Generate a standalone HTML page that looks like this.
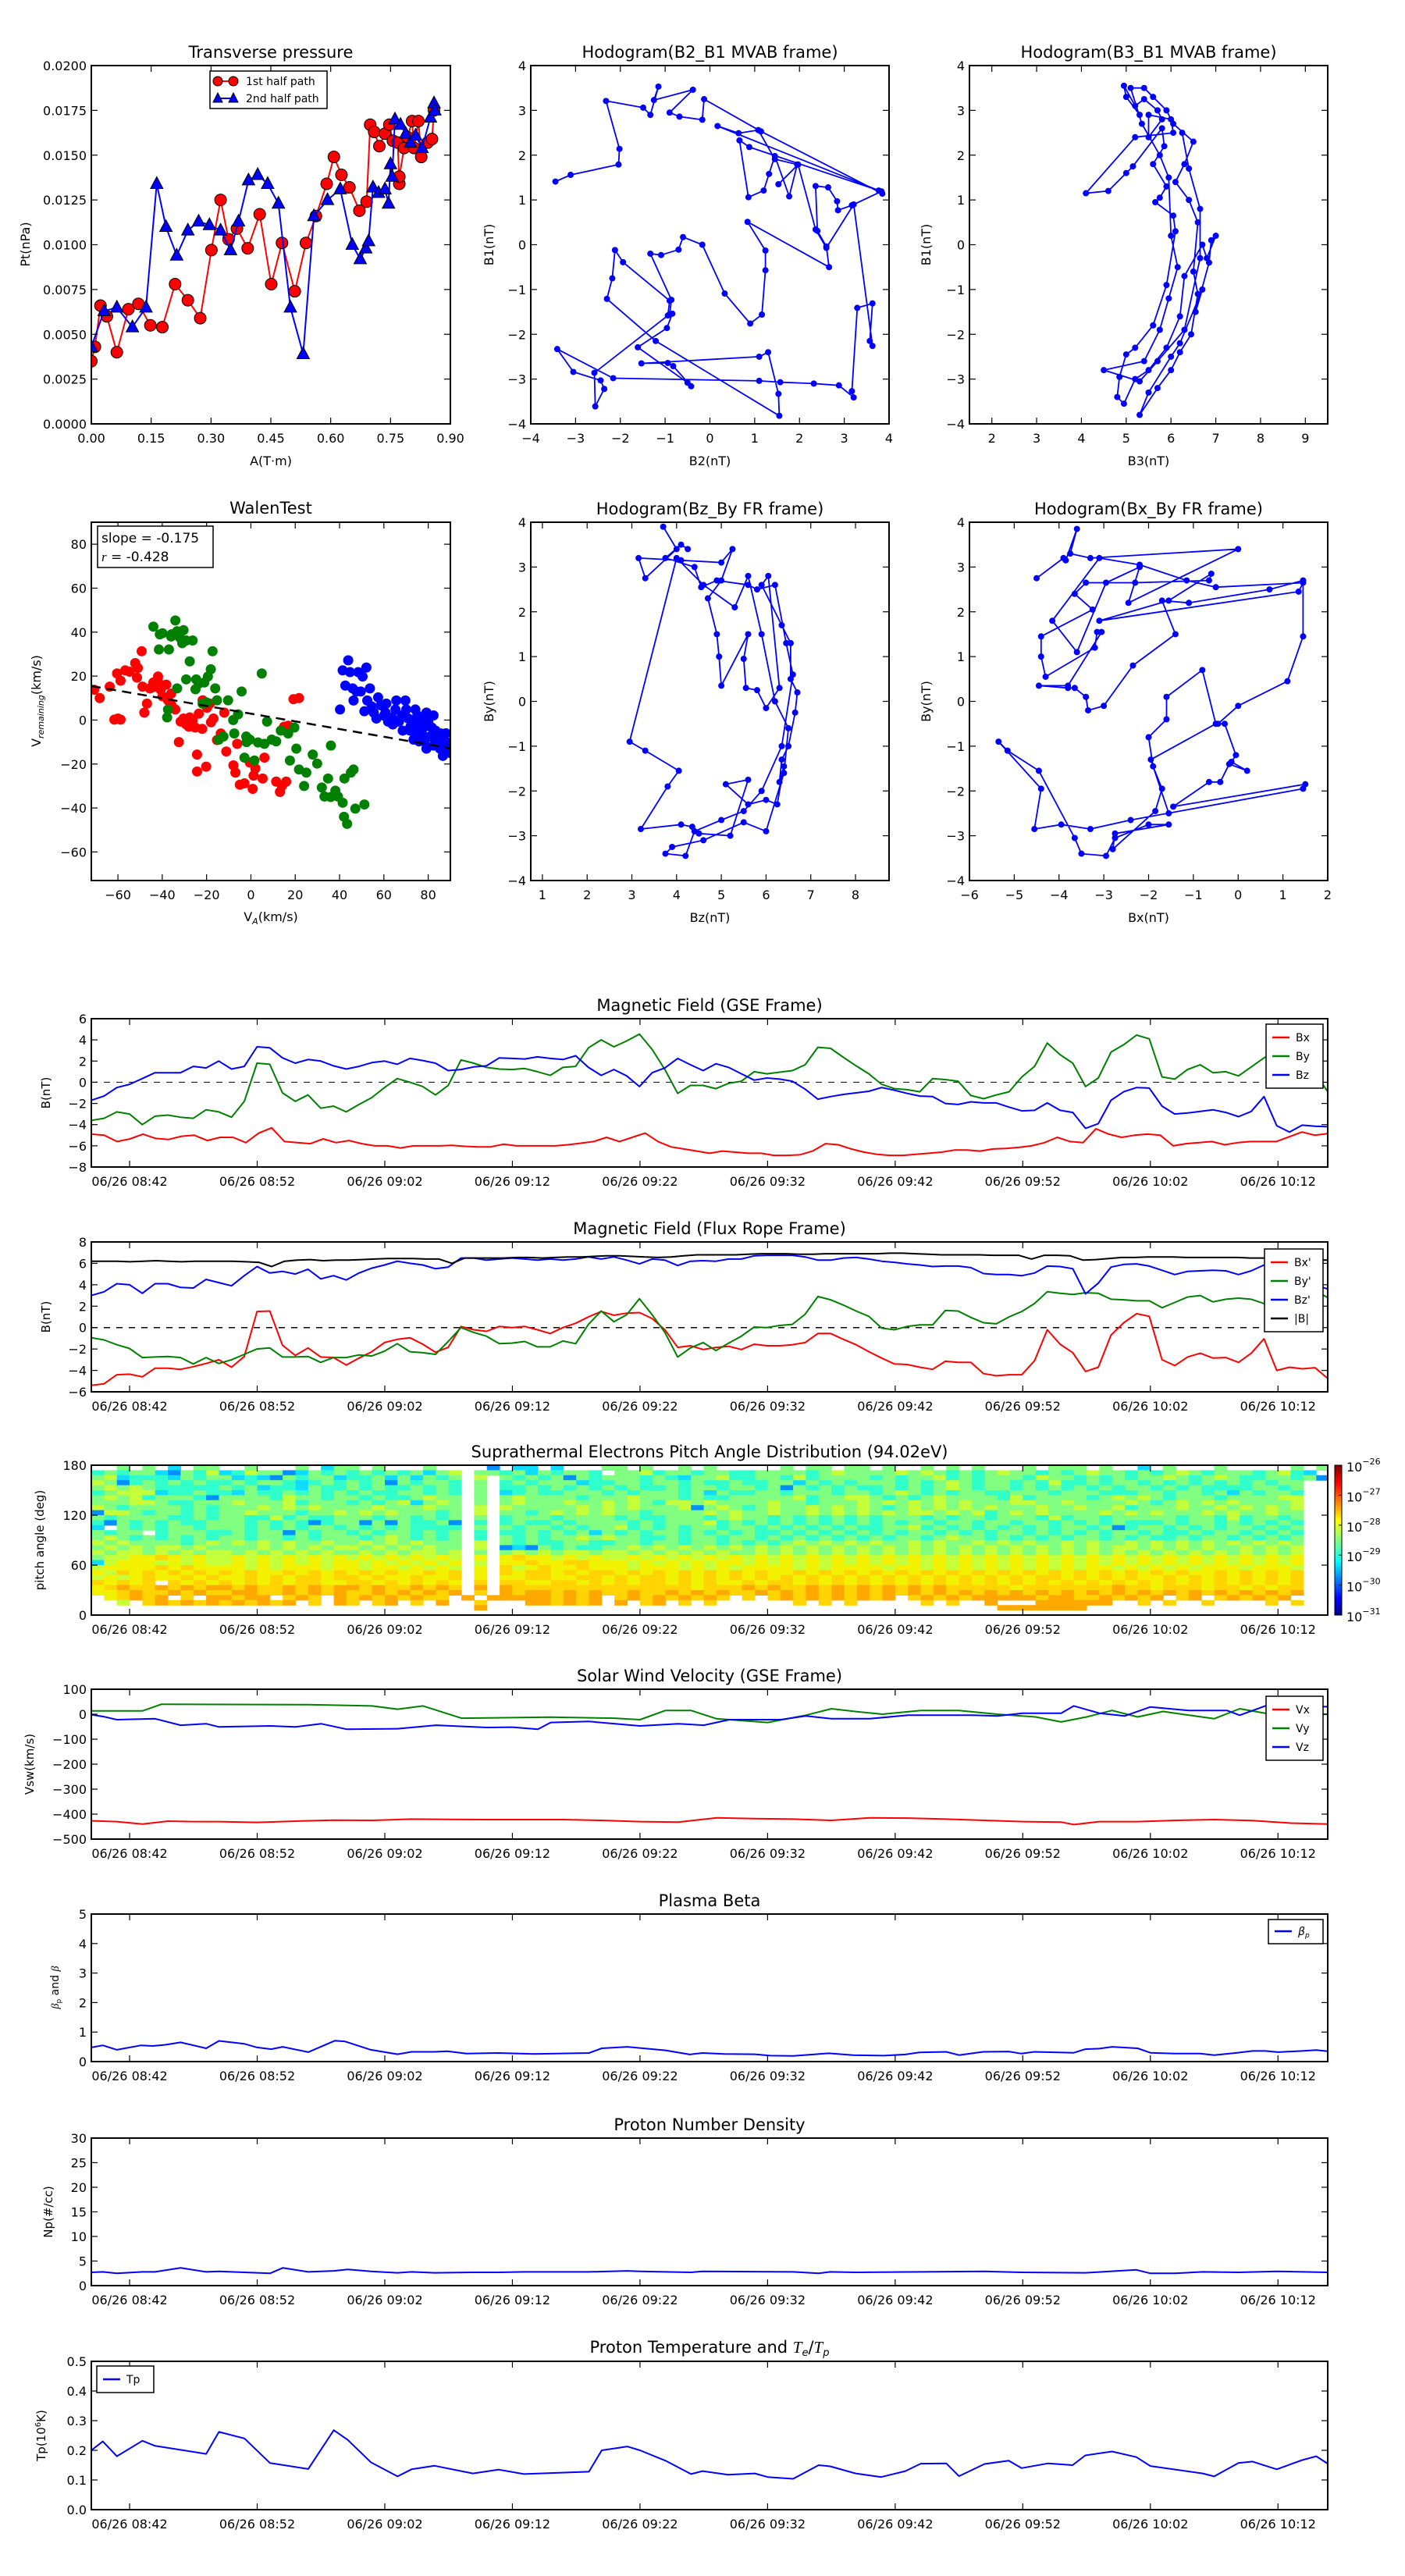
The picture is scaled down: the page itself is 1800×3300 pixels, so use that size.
<!DOCTYPE html>
<html><head><meta charset="utf-8"><title>Flux rope analysis</title>
<style>
html,body{margin:0;padding:0;background:#fff;}
svg{display:block;font-family:"DejaVu Sans","Liberation Sans",sans-serif;}
</style></head>
<body>
<svg id="fig" width="1800" height="3300" viewBox="0 0 1800 3300" xmlns="http://www.w3.org/2000/svg">
<rect x="0" y="0" width="1800" height="3300" fill="#fff"/>
<defs>
<linearGradient id="jet" x1="0" y1="1" x2="0" y2="0">
<stop offset="0" stop-color="#00008f"/><stop offset="0.11" stop-color="#0000ff"/><stop offset="0.36" stop-color="#00ffff"/>
<stop offset="0.5" stop-color="#80ff80"/><stop offset="0.63" stop-color="#ffff00"/><stop offset="0.88" stop-color="#ff0000"/><stop offset="1" stop-color="#800000"/>
</linearGradient>
</defs>
</svg>
<script>
// ---------------- DATA ----------------
const ptRedX=[0,0.009,0.023,0.039,0.064,0.093,0.118,0.148,0.178,0.21,0.242,0.273,0.301,0.324,0.344,0.365,0.392,0.422,0.451,0.478,0.51,0.538,0.563,0.59,0.608,0.627,0.647,0.672,0.69,0.699,0.709,0.722,0.736,0.747,0.756,0.768,0.772,0.772,0.784,0.793,0.804,0.809,0.82,0.827,0.843,0.854,0.859];
const ptRedY=[0.0035,0.0043,0.0066,0.006,0.004,0.0064,0.0067,0.0055,0.0054,0.0078,0.0069,0.0059,0.0097,0.0125,0.0103,0.0109,0.0098,0.0117,0.0078,0.0101,0.0074,0.0101,0.0116,0.0134,0.0149,0.0139,0.0132,0.0119,0.0124,0.0167,0.0163,0.0155,0.0162,0.0167,0.0158,0.0157,0.0134,0.0138,0.0154,0.016,0.0169,0.0154,0.0169,0.0149,0.0157,0.0159,0.0175];
const ptBlueX=[0,0.032,0.064,0.103,0.137,0.164,0.187,0.214,0.242,0.269,0.296,0.324,0.349,0.369,0.394,0.417,0.442,0.469,0.499,0.531,0.558,0.592,0.624,0.654,0.674,0.688,0.695,0.706,0.72,0.736,0.745,0.75,0.754,0.761,0.775,0.788,0.8,0.813,0.829,0.85,0.859,0.861];
const ptBlueY=[0.0043,0.0063,0.0065,0.0054,0.0065,0.0134,0.011,0.0094,0.0108,0.0113,0.0111,0.0108,0.0097,0.0113,0.0136,0.0139,0.0134,0.0123,0.0065,0.0039,0.0116,0.0125,0.0131,0.01,0.0092,0.0098,0.0102,0.0132,0.0129,0.0131,0.0123,0.0145,0.0138,0.017,0.0167,0.0162,0.0157,0.0161,0.0154,0.0171,0.0179,0.0175];

const h1X=[-3.45,-3.11,-2.04,-2.02,-2.32,-1.49,-1.33,-1.15,-1.25,-0.38,-0.9,-0.68,-0.17,-0.13,1.14,3.85,3.77,0.17,0.64,1.08,1.45,1.95,1.77,1.45,1.32,1.2,0.86,0.66,0.88,3.83,3.17,2.86,2.84,2.64,2.36,2.4,2.6,2.66,0.84,1.24,1.24,1.16,0.9,0.33,-0.17,-0.6,-0.7,-1.09,-1.33,-0.86,-0.9,-0.84,-0.96,-1.61,-0.5,-0.42,-0.82,-0.94,-1.53,1.1,1.3,1.53,1.55,-1.21,-2.3,-2.18,-2.12,-1.94,-0.9,-0.94,-2.58,-2.56,-2.36,-2.44,-3.05,-3.41,-2.16,1.1,1.57,2.32,2.88,3.21,3.17,3.29,3.63,3.57,3.63,3.21,2.6,2.36,1.97,1.53];
const h1Y=[1.41,1.56,1.79,2.14,3.21,3.06,2.9,3.53,3.23,3.46,2.95,2.86,2.79,3.25,2.53,1.14,1.21,2.65,2.49,2.56,1.91,1.79,1.08,1.98,1.58,1.21,1.06,2.33,2.18,1.19,0.88,0.77,0.97,1.28,1.31,0.31,-0.04,-0.5,0.51,-0.13,-0.57,-1.56,-1.76,-1.09,0,0.17,-0.11,-0.23,-0.2,-1.23,-1.56,-1.54,-1.86,-2.29,-3.08,-3.16,-2.71,-2.64,-2.65,-2.5,-2.4,-3.33,-3.82,-2.15,-1.21,-0.75,-0.12,-0.39,-1.25,-1.58,-2.86,-3.61,-3.22,-3.03,-2.84,-2.33,-2.98,-3.04,-3.07,-3.1,-3.14,-3.41,-3.27,-1.41,-1.31,-2.15,-2.26,0.9,-0.07,0.34,1.79,1.35];

const h2X=[5.3,5.0,4.95,5.2,5.4,5.7,5.8,5.5,5.5,6.0,6.05,5.2,4.1,4.6,5.0,5.15,5.8,5.85,5.6,5.9,5.75,5.65,6.05,6.1,5.9,5.6,5.2,5.0,4.85,4.8,4.95,5.2,5.5,5.9,6.2,6.3,6.7,6.8,7.0,6.9,6.85,6.55,6.7,6.2,6.0,5.5,5.3,5.7,6.0,6.2,6.45,6.6,6.5,6.6,6.4,6.1,6.3,6.5,6.05,5.9,5.6,5.4,5.1,5.35,5.75,5.95,6.0,6.15,5.95,5.75,5.4,4.5,5.3,5.7,6.3,6.65,6.65,6.4,6.25];
const h2Y=[2.9,3.3,3.55,3.1,3.25,3.0,2.8,2.4,2.9,2.8,2.5,2.4,1.15,1.2,1.6,1.75,2.6,2.2,1.8,1.3,1.05,0.95,0.65,0.3,-0.9,-1.8,-2.3,-2.45,-2.95,-3.4,-3.55,-3.0,-2.8,-2.3,-1.6,-0.7,0.0,-0.3,0.2,0.1,-0.4,-1.5,-1.0,-2.2,-2.5,-3.3,-3.8,-3.2,-2.8,-2.4,-2.0,-1.1,-0.6,0.5,1.0,1.4,1.8,2.3,2.7,3.0,3.3,3.5,3.5,2.7,2.0,1.5,0.2,-0.5,-1.2,-1.9,-2.6,-2.8,-3.05,-2.6,-1.9,-0.3,0.8,1.7,2.5];

const h3X=[3.7,4.0,3.3,3.15,4.1,5.0,5.25,5.0,4.7,4.9,4.95,5.0,5.6,5.5,5.55,5.8,6.0,6.3,6.05,5.9,6.35,6.55,6.55,6.7,6.65,6.5,6.35,6.3,6.4,6.25,6.0,5.6,5.1,5.6,5.2,4.5,4.35,4.1,3.2,3.8,4.05,3.3,2.95,4.0,4.6,5.3,5.6,5.9,6.2,6.5,6.4,6.0,5.5,4.6,3.9,3.75,4.2,4.4,5.0,5.5,5.9,6.35,6.6,6.45,6.2,5.8,5.6,4.9,4.55,4.4,3.75,4.1,4.25];
const h3Y=[3.9,3.4,2.75,3.2,3.15,3.1,3.4,2.7,2.3,1.5,1.0,0.35,1.5,0.95,0.3,0.25,-0.15,0.3,2.8,2.6,1.7,1.3,0.5,0.2,-0.25,-1.0,-1.3,-1.8,-1.45,-2.3,-2.2,-2.3,-1.85,-1.75,-3.0,-2.95,-2.8,-2.75,-2.85,-1.9,-1.55,-1.1,-0.9,3.2,2.6,2.1,2.8,1.5,0.0,-0.6,-1.6,-2.9,-2.7,-3.1,-3.25,-3.4,-3.45,-2.9,-2.65,-2.45,-2.0,-1.0,0.6,1.3,2.6,2.5,2.6,2.7,2.55,3.0,3.2,3.5,3.4];

const h4X=[-4.5,-3.9,-3.85,-3.6,-3.75,-3.3,0.0,-2.45,-2.2,-2.95,-3.6,-4.15,-3.1,-2.2,-1.15,-0.5,1.45,1.35,-3.1,-1.55,-0.6,-0.65,-2.3,-3.4,-3.65,-3.25,-4.4,-4.4,-4.3,-3.2,-3.15,-3.05,-3.8,-4.45,-3.8,-3.65,-3.4,-3.35,-3.0,-2.35,-1.4,-1.7,-1.1,0.7,1.45,1.45,1.1,0.0,-0.45,-0.3,-0.05,-0.15,0.2,-0.2,-0.4,-0.65,-1.45,1.5,1.45,-2.4,-3.3,-3.95,-4.55,-4.4,-5.35,-5.15,-4.45,-3.65,-3.5,-2.95,-2.75,-2.0,-1.55,-2.75,-2.8,-1.85,-1.7,-1.9,-2.0,-1.6,-1.6,-0.8,-0.5,-1.95,-1.55];
const h4Y=[2.75,3.2,3.15,3.85,3.3,3.2,3.4,2.2,3.0,2.65,1.1,1.8,3.2,3.05,2.7,2.55,2.65,2.45,1.8,2.25,2.85,2.7,2.65,2.65,2.4,2.05,1.45,1.0,0.55,1.2,1.55,1.55,0.35,0.35,0.3,0.3,0.1,-0.2,-0.1,0.8,1.5,2.25,2.2,2.5,2.7,1.45,0.45,-0.1,-0.5,-0.5,-1.2,-1.35,-1.55,-1.4,-1.8,-1.8,-2.35,-1.85,-1.95,-2.65,-2.85,-2.75,-2.85,-1.95,-0.9,-1.1,-1.55,-3.05,-3.4,-3.45,-3.05,-2.75,-2.75,-2.95,-3.3,-2.45,-1.95,-1.45,-0.8,-0.4,0.1,0.7,-0.5,-1.3,-2.5];

const walenRedX=[-70.7,-68.2,-63.7,-61.6,-60,-58.8,-60.4,-58.8,-56.7,-54.7,-52.2,-51,-49.3,-51.4,-48.9,-48.1,-46.9,-45.6,-44,-43.2,-41.9,-40.7,-39.9,-38.2,-37.4,-35.8,-34.1,-32.5,-31.7,-30.4,-29.2,-27.6,-26.3,-25.1,-24.3,-24.3,-23.5,-21.8,-19.8,-20.2,-18.5,-16.9,-15.3,-13.6,-12,-11.1,-7.9,-7,-5,-2.9,-0.5,0.8,1.2,5.3,11.4,13.1,15.9,16.8,19.2,21.7,6.1,-6.2,-44,-42,-36,-28,-22,-18,2,14,15];
const walenRedY=[13.8,10,15.2,0.2,0.7,0.2,21.2,17.9,22.6,22,25.9,23.7,31.3,19.3,15.2,3.4,7.5,14.4,17.1,16.3,19.8,13.8,10.8,16.1,9,6.7,4.8,-10,-0.7,0.7,-2,1.2,-0.1,-3.4,-15.7,-23.4,2.9,9,5.6,-21.2,7.5,0.7,-9.1,-6.1,3.4,-14.3,-20.6,-23.9,-29.4,-28.8,-19.3,-31.3,-25.3,-26.6,-28,-32.7,-28,-2.6,9.5,10,-17.1,-10.8,15,18,12,-3,-4,-1,-22,-30,-3];
const walenGreenX=[-44,-41.1,-39.9,-37,-35.8,-34.1,-33.3,-32.1,-30.4,-29.2,-27.6,-26.3,-24.7,-23.5,-21.8,-21,-19.4,-18.1,-17.3,-16.1,-15.3,-14.5,-12.4,-10.3,-7.5,-5.8,-4.2,-2.9,-2.1,-0.5,1.6,3.2,4.9,6.1,7.3,9.4,11.4,13.5,16.8,17.6,19.6,20.5,21.7,25,27.9,29.9,32,33.2,34.8,36.1,38.1,39.3,41.4,42.2,43.4,45.1,46.3,47.1,51.2,-37.8,-37.4,-33.3,-29.2,-41.5,-36,-31,-25,-8,-2,24,36,42,-20];
const walenGreenY=[42.5,39,39.5,32.1,39,45.3,40.4,37.6,40.9,36.2,26.7,36.2,18.5,16.6,7.5,17.1,19.8,23.1,31.3,14.4,9,-8.9,-7.5,9,-6.1,2.6,13,-17.1,-7.5,-8.9,-18.4,-10.2,21.2,-10.8,-0.7,-8.9,-9.7,-4.8,-6.1,-18.4,-3.4,-13,-22.5,-23.9,-15.7,-19.8,-30.7,-34.8,-26.6,-11.6,-32.1,-34.8,-37.6,-26.6,-47.2,-23.9,-22.5,-40.3,-38.4,1.2,4.8,14.4,18.5,32.1,38,35,14,0,-10,-30,-35,-44,8];
const walenBlueX=[43.9,41.4,44.7,48.4,52.1,50.4,42.6,45.9,47.6,49.6,53.7,40.2,46.3,52.5,51.2,54.5,55.4,56.6,58.6,60.7,61.9,63.6,65.6,66.8,68.1,69.7,70.1,71.8,73,74.2,75.1,76.3,77.1,77.9,79.2,80,80.8,81.6,82.4,83.3,84.1,84.9,85.7,86.6,87.4,88.2,89,89.8,79.2,82.4,85.3,73.4,75.9,71,65.2,61.1,57.4,68.5,78.3,86.6,60,64,72,83,88,90,75,78];
const walenBlueY=[27.2,22.6,21.8,21.8,23.9,19.8,15.7,14.4,13,13,14.4,4.8,8.9,8.9,4,6.2,3.4,0.7,6.7,3.4,-0.7,1.2,8.9,-0.7,2.1,8.9,4.8,-4.8,-0.7,4.8,2.1,-2,-6.1,-3.4,3.4,-0.7,-7.5,-3.4,2.1,-4.8,-7.5,-10.2,-6.1,-8.9,-11.6,-14.3,-10.2,-13,-13,-11.6,-13,-8.9,-9.7,0.7,4.8,7.5,10.3,-4.8,-9.7,-16.3,2,-2,-3,-9,-6,-15,-5,0];
const walenSlope=-0.175, walenIntercept=2.9;

const gseBx=[-4.9,-5.0,-5.6,-5.35,-4.9,-5.3,-5.4,-5.1,-5.0,-5.5,-5.2,-5.2,-5.7,-4.8,-4.3,-5.6,-5.7,-5.8,-5.35,-5.7,-5.5,-5.8,-6.0,-6.0,-6.2,-6.0,-6.0,-6.0,-5.95,-6.05,-6.1,-6.1,-5.85,-6.0,-6.0,-6.0,-6.0,-5.9,-5.75,-5.6,-5.2,-5.6,-5.2,-4.8,-5.6,-6.1,-6.3,-6.5,-6.7,-6.5,-6.6,-6.7,-6.7,-6.9,-6.9,-6.85,-6.5,-5.8,-5.9,-6.3,-6.6,-6.8,-6.9,-6.9,-6.8,-6.7,-6.6,-6.4,-6.4,-6.5,-6.3,-6.25,-6.15,-6.0,-5.7,-5.2,-5.6,-5.7,-4.4,-4.9,-5.2,-5.0,-4.9,-5.0,-6.0,-5.8,-5.7,-5.6,-5.9,-5.7,-5.6,-5.6,-5.6,-5.15,-4.7,-5.0,-4.85];
const gseBy=[-3.6,-3.4,-2.8,-3.0,-4.0,-3.2,-3.1,-3.3,-3.4,-2.6,-2.8,-3.3,-1.8,1.8,1.7,-1.0,-1.8,-1.2,-2.45,-2.25,-2.8,-2.1,-1.45,-0.5,0.35,0.0,-0.4,-1.2,-0.3,2.1,1.8,1.4,1.25,1.2,1.3,1.0,0.65,1.4,1.5,3.25,4.0,3.35,3.9,4.55,3.1,1.2,-1.05,-0.3,-0.3,-0.6,-0.1,0.1,1.0,0.8,0.95,1.1,1.65,3.3,3.2,2.35,1.55,0.8,-0.2,-0.6,-0.7,-0.9,0.35,0.25,0.1,-1.25,-1.55,-1.2,-0.9,0.5,1.5,3.7,2.6,1.8,-0.4,0.4,2.85,3.55,4.45,4.1,0.5,0.3,1.2,1.65,0.9,1.0,0.6,1.45,2.3,3.0,2.2,1.7,0.9,-0.9];
const gseBz=[-1.7,-1.3,-0.5,-0.2,0.35,0.9,0.9,0.9,1.5,1.35,2.0,1.25,1.5,3.35,3.25,2.3,1.8,2.15,2.0,1.55,1.25,1.5,1.85,2.0,1.7,2.25,2.05,1.8,1.1,1.2,1.45,1.55,2.3,2.25,2.2,2.4,2.25,2.15,2.5,1.4,0.65,1.2,0.6,-0.4,0.9,1.35,2.25,1.65,1.1,1.75,1.4,0.8,0.2,0.4,0.3,0.1,-0.65,-1.6,-1.35,-1.15,-1.0,-0.85,-0.5,-0.75,-1.05,-1.3,-1.35,-2.0,-2.1,-1.85,-1.95,-1.95,-2.35,-2.7,-2.65,-1.95,-2.65,-2.85,-4.35,-3.9,-1.7,-0.9,-0.5,-0.55,-2.25,-3.0,-2.9,-2.75,-2.6,-2.85,-3.25,-2.75,-1.35,-4.1,-4.7,-4.05,-4.15,-4.2];

const frBx=[-5.4,-5.25,-4.4,-4.35,-4.6,-3.8,-3.8,-3.9,-3.65,-3.35,-3.0,-3.7,-2.7,1.5,1.55,-1.65,-2.6,-1.9,-2.75,-2.8,-3.5,-2.85,-2.25,-1.4,-1.1,-0.95,-1.55,-2.3,-1.85,0.1,-0.2,-0.35,0.1,0.0,0.1,-0.2,-0.55,0.0,0.4,1.0,1.5,1.15,1.35,1.4,0.85,-0.2,-1.85,-1.7,-2.05,-1.85,-1.75,-2.05,-1.55,-1.7,-1.7,-1.6,-1.4,-0.55,-0.55,-1.1,-1.6,-2.25,-2.85,-3.4,-3.45,-3.7,-3.9,-3.15,-3.25,-3.25,-4.3,-4.5,-4.4,-4.4,-3.1,-0.2,-1.55,-2.35,-4.1,-3.7,-0.7,0.45,1.3,1.05,-3.0,-3.55,-2.75,-2.4,-2.85,-2.8,-3.25,-2.4,-1.05,-4.0,-3.7,-3.85,-3.75,-4.75];
const frBy=[-0.95,-1.15,-1.6,-1.95,-2.8,-2.75,-2.7,-2.8,-3.4,-2.8,-3.35,-3.0,-2.5,-2.0,-1.9,-2.75,-2.75,-2.7,-3.25,-2.8,-2.8,-2.55,-2.65,-2.2,-1.5,-2.25,-2.35,-2.5,-1.3,0.0,-0.45,-0.8,-1.5,-1.45,-1.3,-1.8,-1.8,-1.25,-1.5,0.3,1.55,0.55,1.2,2.7,1.2,-0.45,-2.75,-1.9,-1.4,-2.15,-1.45,-0.8,0.05,0.0,0.2,0.3,1.25,2.9,2.6,2.1,1.55,1.05,-0.05,-0.2,0.1,0.25,0.25,1.6,1.55,0.95,0.45,0.35,1.0,1.5,2.25,3.35,3.2,3.1,3.25,3.2,2.65,2.6,2.5,2.5,1.85,2.35,2.85,3.0,2.4,2.65,2.75,2.65,2.25,2.85,3.3,3.25,3.45,2.8];
const frBz=[3.0,3.35,4.1,4.0,3.2,4.1,4.1,3.75,3.7,4.5,4.2,3.9,4.85,5.7,5.1,5.25,5.0,5.45,4.55,4.85,4.45,5.1,5.55,5.85,6.2,6.0,5.85,5.5,5.65,6.5,6.5,6.3,6.4,6.5,6.4,6.3,6.4,6.3,6.4,6.6,6.4,6.6,6.3,5.95,6.4,6.3,5.8,6.2,6.25,6.2,6.4,6.4,6.7,6.75,6.75,6.75,6.6,6.3,6.3,6.5,6.55,6.4,6.2,6.1,5.95,5.85,5.7,5.75,5.75,5.6,5.05,4.95,4.95,4.85,5.1,5.75,5.7,5.5,3.15,4.15,5.65,5.9,5.95,5.75,5.35,4.95,5.25,5.3,5.35,5.3,4.95,5.3,5.85,5.0,4.2,4.0,4.0,3.6];
const frB=[6.2,6.2,6.2,6.15,6.2,6.25,6.2,6.15,6.2,6.2,6.2,6.2,6.15,6.1,5.7,6.2,6.3,6.35,6.25,6.3,6.3,6.35,6.4,6.45,6.45,6.45,6.4,6.4,6.0,6.5,6.5,6.5,6.5,6.55,6.55,6.5,6.55,6.6,6.6,6.65,6.7,6.7,6.65,6.6,6.55,6.6,6.7,6.8,6.8,6.8,6.8,6.85,6.9,6.9,6.9,6.85,6.85,6.9,6.9,6.9,6.9,6.9,6.95,6.95,6.9,6.85,6.8,6.8,6.8,6.8,6.75,6.75,6.75,6.4,6.75,6.75,6.7,6.3,6.35,6.45,6.55,6.55,6.6,6.6,6.6,6.55,6.55,6.55,6.55,6.55,6.5,6.5,6.35,6.3,6.3,6.3,6.3];

const padRows=[
"..4.4.2.44..4...4.244.4...4....1.22.2...44.4..4.4.....4.44.44.4..4.4.4...4.444.4..2.4...4.....4.4",
"34344214352354412434343434245.4434243443.4453443443344443454444545434345443434544343454344434532",
"45233324344232143442334242434.5.434341434443432445334435344443434453434443544343434454345433443411",
"54134343433434432343434143443.4.343444233443443433433442434344434345434434353343443434343434344",
"45454333334342332433434334343.4.334343434343343443443414343433434345434434343434344343433334434",
"34555233433243343434343344343.4.234334443434443424334434443443454343443344434443334434434243443",
"45453444314444354434434334544.4.454444344454443433444445344554343454444353444434545434443444455",
"44455433444544453444343452454.4.454445445454355454444544344454545454544455445444454345454544445",
"54344443434445454544445444544.5.544444545454445145434544545454345454545444544544534445445454545",
"15543443434454443445454544434.5.443454545443444454544544545454545545453454544445454544454544544",
"43444433434433534334443443434.4.344434444343344434544343434343444343443444353443444443443534434",
"31434343344434343134414143341.3.343343444434344453434343434343434434434434434343433343443434343",
"2.434344344434343443434343333.4.434434344534343443443434343433445343434343434434134434343443434",
"4344.344433434414344343443434.3.334343424343443434343343434343434434343443434343443433434434343",
"45434343434434434344434543434.3.434344545443343443443434343434344345443434343443434334344343434",
"54544443454545454454454545444.5.434334433443443443434345454545445454454545445454454545454545454",
"45454554544445454545545454544.5.121434334454545454545454545454545454545454545454554545454454545",
"54554545455454545454454545545.4.454545545545454545445454545454545454545454545454545454545454545",
"45566765655656565656565656565.6.676656565565656565656565656565656565656565656565656565656565656",
"25666565655656565656656565656.5.667667766656565656656565656565656565656565656565656565656565656",
"56666767666656566656656656565.6.756766766656665656566665656666566565656565656566565656566656665",
"65767676767676676767676766767.6.767767677676767676767667676767676767676767676767676767667676767",
"56567667676676767767767667667.6.667766776767767676767676767676767676767676776767676676767676767",
"76767.76767676767766776767676.7.776677676767767676676776767676767676767676767676767676767676767",
"67877878788787787878878778787.8.877777777777777677787877878787878787777767777777877677767767677",
"66787787877887787878778787878.7.878878787787787878778787878787878787878787878787878787878787878",
".67878.7.88788.787.878787877.8.888887878.787878787.7.7878787878.78787888887887787878.78.787878.",
"..5.787878787878.7.87.78.7.8..7...887878.8.78.7.7......7.7.7.....7.7..8...888888..7.7..7....7.7..",
"..............................8........................................8888888.................",
"................................................................................................."
];
const padColors=['#ffffff','#0090ff','#10dcff','#30ffcc','#80ff80','#c4ff3a','#f2f200','#ffd400','#ffa800'];

const vxT=[39,41,43,45,47,49,52,55,58,61,64,67,70,73,76,79,82,85,88,91,94,97,100,103,106,109,112,115,116,118,121,124,127,130,133,136];
const vxV=[-427,-430,-440,-428,-430,-430,-433,-428,-424,-425,-420,-421,-422,-422,-422,-425,-430,-432,-415,-418,-420,-425,-415,-416,-420,-425,-430,-432,-442,-430,-430,-425,-422,-426,-436,-440];
const vyT=[39,43,44.5,56,61,63,65,68,75,80,82,84,86,88,92,95,97,99,101,104,107,110,113,115,117,119,121,123,127,129,132,136];
const vyV=[13,13,40,38,33,20,33,-16,-12,-16,-22,15,15,-18,-33,-4,22,10,0,15,15,0,-11,-31,-11,15,-11,11,-18,22,-5,0];
const vzT=[39,40,41,44,46,48,49,53,55,57,59,63,66,70,72,74,75,78,82,85,87,89,93,95,97,100,103,108,110,112,115,116,118,120,122,125,128,129,131,136];
const vzV=[-2,-10,-22,-18,-44,-38,-51,-47,-51,-38,-60,-58,-44,-53,-52,-60,-33,-29,-47,-38,-44,-22,-22,-7,-18,-18,-4,-4,-7,4,4,33,4,-7,29,15,15,-4,33,30];

const betaT=[39.0,39.9,41.0,42.9,43.8,44.8,46.0,48.0,49.0,51.0,52.0,53.1,54.0,56.0,58.1,58.9,60.9,63.0,64.1,65.9,66.9,68.4,70.9,73.7,78.0,79.0,81.0,84.0,85.9,86.9,88.6,91.0,92.2,94.0,96.8,98.7,101.1,102.8,103.9,106.0,107.0,108.9,110.9,111.9,112.9,116.0,116.9,118.0,119.0,121.0,122.0,123.9,125.9,127.0,128.8,130.0,131.0,132.0,133.9,135.0,135.9];
const betaV=[0.48,0.55,0.4,0.55,0.53,0.57,0.65,0.45,0.7,0.6,0.48,0.42,0.5,0.32,0.71,0.68,0.4,0.25,0.33,0.33,0.35,0.27,0.29,0.26,0.29,0.45,0.5,0.38,0.24,0.29,0.26,0.25,0.2,0.19,0.28,0.22,0.2,0.24,0.31,0.33,0.22,0.33,0.34,0.27,0.33,0.3,0.42,0.44,0.5,0.45,0.3,0.27,0.27,0.22,0.3,0.36,0.36,0.32,0.36,0.39,0.35];
const npT=[39,39.9,41,43,44,46,48,49,53,54,56,58,59.1,60.9,63,64.1,65.9,68.9,70.9,72.9,78,81,82,86,86.9,94,96,96.9,98.9,104,109,111.9,116.9,120.9,122,123.9,126.1,128.9,131.9,135.9];
const npV=[2.7,2.8,2.5,2.8,2.8,3.6,2.8,2.9,2.5,3.6,2.8,3.0,3.3,2.9,2.6,2.8,2.6,2.7,2.7,2.8,2.8,3.0,2.9,2.7,2.9,2.8,2.5,2.8,2.7,2.8,2.9,2.7,2.6,3.2,2.5,2.5,2.8,2.7,2.9,2.7];
const tpT=[39.0,39.9,41.0,43.0,44.0,48.0,49.0,51.0,53.0,56.0,58.0,59.1,60.9,63.0,64.1,65.9,68.9,70.9,72.9,78.0,79.0,81.0,82.0,84.0,86.0,86.9,88.9,91.0,92.0,94.0,96.0,96.9,98.9,100.9,102.8,104.0,106.0,107.0,109.0,110.9,111.9,114.0,115.9,116.9,119.0,120.9,122.0,126.1,127.0,128.9,130.0,131.9,133.9,135.0,135.9];
const tpV=[0.2,0.23,0.18,0.232,0.215,0.188,0.262,0.24,0.157,0.137,0.268,0.235,0.16,0.112,0.136,0.148,0.122,0.135,0.12,0.128,0.2,0.213,0.2,0.165,0.12,0.13,0.118,0.122,0.11,0.104,0.15,0.146,0.122,0.11,0.13,0.155,0.156,0.113,0.154,0.165,0.14,0.156,0.15,0.183,0.196,0.177,0.147,0.122,0.112,0.157,0.162,0.136,0.167,0.18,0.155];

const timeTicks=[42,52,62,72,82,92,102,112,122,132];
const timeLabels=['06/26 08:42','06/26 08:52','06/26 09:02','06/26 09:12','06/26 09:22','06/26 09:32','06/26 09:42','06/26 09:52','06/26 10:02','06/26 10:12'];

// ---------------- DRAWING ----------------
const NS='http://www.w3.org/2000/svg';
const svg=document.getElementById('fig');
function mk(tag,attrs,parent,name){
  const e=document.createElementNS(NS,tag);
  for(const k in attrs) e.setAttribute(k,attrs[k]);
  
  
  parent.appendChild(e); return e;
}
function txt(parent,x,y,s,size,anchor,name,extra){
  const a={x:x,y:y,'font-size':size,'text-anchor':anchor||'middle',fill:'#000'};
  if(extra) for(const k in extra) a[k]=extra[k];
  const t=mk('text',a,parent,name); t.textContent=s; return t;
}
function panel(name,x0,y0,x1,y1,xd,yd){
  const g=mk('g',{},svg,name);
  const sx=v=>x0+(v-xd[0])/(xd[1]-xd[0])*(x1-x0);
  const sy=v=>y1-(v-yd[0])/(yd[1]-yd[0])*(y1-y0);
  const cid='clip-'+name;
  const cp=mk('clipPath',{id:cid},g,name+'-clip');
  mk('rect',{x:x0,y:y0,width:x1-x0,height:y1-y0},cp,name+'-clip-rect');
  const plot=mk('g',{'clip-path':'url(#'+cid+')'},g,name+'-plot-area');
  return {g,plot,sx,sy,x0,y0,x1,y1,name};
}
function frame(p){ mk('rect',{x:p.x0,y:p.y0,width:p.x1-p.x0,height:p.y1-p.y0,fill:'none',stroke:'#000','stroke-width':2},p.g,p.name+'-frame'); }
function xTicks(p,vals,labels,size){
  const g=mk('g',{},p.g,p.name+'-x-axis');
  vals.forEach((v,i)=>{const x=p.sx(v);
    mk('line',{x1:x,y1:p.y1,x2:x,y2:p.y1-8,stroke:'#000','stroke-width':1.2},g,'x-tick');
    mk('line',{x1:x,y1:p.y0,x2:x,y2:p.y0+8,stroke:'#000','stroke-width':1.2},g,'x-tick-top');
    txt(g,x,p.y1+24,labels[i],size||16,'middle','x-tick-label');});
}
function yTicks(p,vals,labels,size){
  const g=mk('g',{},p.g,p.name+'-y-axis');
  vals.forEach((v,i)=>{const y=p.sy(v);
    mk('line',{x1:p.x0,y1:y,x2:p.x0+8,y2:y,stroke:'#000','stroke-width':1.2},g,'y-tick');
    mk('line',{x1:p.x1,y1:y,x2:p.x1-8,y2:y,stroke:'#000','stroke-width':1.2},g,'y-tick-right');
    txt(g,p.x0-6,y+6,labels[i],size||16,'end','y-tick-label');});
}
function line(p,xs,ys,color,name,w,dash){
  const pts=xs.map((x,i)=>p.sx(x).toFixed(1)+','+p.sy(ys[i]).toFixed(1)).join(' ');
  const a={points:pts,fill:'none',stroke:color,'stroke-width':w||2,'stroke-linejoin':'round'};
  if(dash) a['stroke-dasharray']=dash;
  return mk('polyline',a,p.plot,name);
}
function ylabel(x,y,s,size,name){ return txt(svg,x,y,s,size,'middle',name,{transform:'rotate(-90 '+x+' '+y+')'}); }
function minuteTimes(arr){ const step=(135.9-39)/(arr.length-1); return arr.map((_,i)=>39+i*step); }
function range(a,b,s){const r=[];for(let v=a;v<=b+1e-9;v+=s)r.push(+v.toFixed(6));return r;}

{
 const p=panel('transverse-pressure',117,84,577,543,[0,0.9],[0,0.02]);
 line(p,ptRedX,ptRedY,'#ff0000','pt-1st-half-line',2);
 ptRedX.forEach((x,i)=>{ mk('circle',{cx:p.sx(x),cy:p.sy(ptRedY[i]),r:7.5,fill:'#ff0000',stroke:'#000','stroke-width':1},p.plot,'pt-1st-half-marker'); });
 line(p,ptBlueX,ptBlueY,'#0000ff','pt-2nd-half-line',2);
 ptBlueX.forEach((x,i)=>{const cx=p.sx(x),cy=p.sy(ptBlueY[i]);
   mk('polygon',{points:(cx)+','+(cy-9)+' '+(cx-8)+','+(cy+6)+' '+(cx+8)+','+(cy+6),fill:'#0000ff',stroke:'#000','stroke-width':1},p.plot,'pt-2nd-half-marker');});
 frame(p);
 const xt=range(0,0.9,0.15); xTicks(p,xt,xt.map(v=>v.toFixed(2)));
 const yt=range(0,0.02,0.0025); yTicks(p,yt,yt.map(v=>v.toFixed(4)));
 txt(svg,347,74,'Transverse pressure',21,'middle','pt-title');
 txt(svg,347,596,'A(T·m)',16,'middle','pt-x-label');
 ylabel(38,313,'Pt(nPa)',16,'pt-y-label');
 const lg=mk('g',{},svg,'pt-legend');
 mk('rect',{x:269,y:91,width:150,height:48,fill:'#fff',stroke:'#000','stroke-width':1.5},lg,'pt-legend-box');
 mk('line',{x1:279,y1:104,x2:299,y2:104,stroke:'#f00','stroke-width':2},lg,'legend-red-line');
 mk('circle',{cx:279,cy:104,r:6,fill:'#f00',stroke:'#000'},lg,'legend-red-marker');
 mk('circle',{cx:299,cy:104,r:6,fill:'#f00',stroke:'#000'},lg,'legend-red-marker');
 txt(lg,315,109,'1st half path',14,'start','legend-1st-half-label');
 mk('line',{x1:279,y1:126,x2:299,y2:126,stroke:'#00f','stroke-width':2},lg,'legend-blue-line');
 mk('polygon',{points:'279,119 273,131 285,131',fill:'#00f',stroke:'#000'},lg,'legend-blue-marker');
 mk('polygon',{points:'299,119 293,131 305,131',fill:'#00f',stroke:'#000'},lg,'legend-blue-marker');
 txt(lg,315,131,'2nd half path',14,'start','legend-2nd-half-label');
}
function hodo(name,x0,y0,x1,y1,xd,xt,xs,ys,title,xl,yl,ylx){
 const p=panel(name,x0,y0,x1,y1,xd,[-4,4]);
 line(p,xs,ys,'#0000ff',name+'-path',1.8);
 xs.forEach((x,i)=>{ mk('circle',{cx:p.sx(x),cy:p.sy(ys[i]),r:4,fill:'#0000ff'},p.plot,name+'-point'); });
 frame(p);
 xTicks(p,xt,xt.map(v=>v<0?'\u2212'+(-v):''+v));
 const yt=range(-4,4,1); yTicks(p,yt,yt.map(v=>v<0?'\u2212'+(-v):''+v));
 txt(svg,(x0+x1)/2,y0-10,title,21,'middle',name+'-title');
 txt(svg,(x0+x1)/2,y1+53,xl,16,'middle',name+'-x-label');
 ylabel(ylx,(y0+y1)/2,yl,16,name+'-y-label');
}
hodo('hodogram-b2-b1',680,84,1139,543,[-4,4],range(-4,4,1),h1X,h1Y,'Hodogram(B2_B1 MVAB frame)','B2(nT)','B1(nT)',632);
hodo('hodogram-b3-b1',1242,84,1701,543,[1.5,9.5],range(2,9,1),h2X,h2Y,'Hodogram(B3_B1 MVAB frame)','B3(nT)','B1(nT)',1192);
hodo('hodogram-bz-by',680,669,1139,1128,[0.74,8.75],range(1,8,1),h3X,h3Y,'Hodogram(Bz_By FR frame)','Bz(nT)','By(nT)',632);
hodo('hodogram-bx-by',1242,669,1701,1128,[-6,2],range(-6,2,1),h4X,h4Y,'Hodogram(Bx_By FR frame)','Bx(nT)','By(nT)',1192);
{
 const p=panel('walen-test',117,669,577,1128,[-72,90],[-73,90]);
 walenRedX.forEach((x,i)=>{ mk('circle',{cx:p.sx(x),cy:p.sy(walenRedY[i]),r:6.5,fill:'#ff0000'},p.plot,'walen-red-point'); });
 walenGreenX.forEach((x,i)=>{ mk('circle',{cx:p.sx(x),cy:p.sy(walenGreenY[i]),r:6.5,fill:'#008000'},p.plot,'walen-green-point'); });
 walenBlueX.forEach((x,i)=>{ mk('circle',{cx:p.sx(x),cy:p.sy(walenBlueY[i]),r:6.5,fill:'#0000ff'},p.plot,'walen-blue-point'); });
 line(p,[-72,90],[walenSlope*-72+walenIntercept,walenSlope*90+walenIntercept],'#000','walen-fit-line',2.5,'12,8');
 frame(p);
 const xt=range(-60,80,20); xTicks(p,xt,xt.map(v=>v<0?'\u2212'+(-v):''+v));
 const yt=range(-60,80,20); yTicks(p,yt,yt.map(v=>v<0?'\u2212'+(-v):''+v));
 txt(svg,347,658,'WalenTest',21,'middle','walen-title');
 const xl=txt(svg,347,1180,'V',16,'middle','walen-x-label');
 const s1=mk('tspan',{'font-size':11,'font-style':'italic',dy:4},xl,'x-label-subscript'); s1.textContent='A';
 const s2=mk('tspan',{dy:-4},xl,'x-label-units'); s2.textContent='(km/s)';
 const yl=ylabel(52,898,'V',16,'walen-y-label');
 const s3=mk('tspan',{'font-size':11,'font-style':'italic',dy:4},yl,'y-label-subscript'); s3.textContent='remaining';
 const s4=mk('tspan',{dy:-4},yl,'y-label-units'); s4.textContent='(km/s)';
 const bx=mk('g',{},svg,'walen-stats-box');
 mk('rect',{x:125,y:674,width:148,height:53,fill:'#fff',stroke:'#000','stroke-width':1.5},bx,'stats-box-frame');
 txt(bx,130,695,'slope = -0.175',17,'start','slope-text');
 const rt=txt(bx,130,719,'',17,'start','r-text');
 const ri=mk('tspan',{'font-style':'italic','font-family':'Liberation Serif, serif'},rt,'r-symbol'); ri.textContent='r';
 const rv=mk('tspan',{},rt,'r-value'); rv.textContent=' = -0.428';
}
const TX0=117,TX1=1701,TD=[39,135.9];
function timePanel(name,y0,y1,yd,yt,ylab,title,ylx,ylsize){
 const p=panel(name,TX0,y0,TX1,y1,TD,yd);
 txt(svg,(TX0+TX1)/2,y0-10,title,21,'middle',name+'-title');
 if(ylab) ylabel(ylx,(y0+y1)/2,ylab,ylsize||15,name+'-y-label');
 p.finish=()=>{frame(p); xTicks(p,timeTicks,timeLabels,16); yTicks(p,yt,yt.map(v=>v<0?'\u2212'+(-v):''+v),16);};
 return p;
}
function legend(name,x,y,w,entries){
 const g=mk('g',{},svg,name);
 mk('rect',{x:x,y:y,width:w,height:entries.length*24+10,fill:'#fff',stroke:'#000','stroke-width':1.5},g,name+'-box');
 entries.forEach((e,i)=>{const yy=y+17+i*24;
  mk('line',{x1:x+8,y1:yy,x2:x+30,y2:yy,stroke:e[1],'stroke-width':2.5},g,'legend-swatch');
  txt(g,x+38,yy+5,e[0],14,'start','legend-label');});
}
{
 const p=timePanel('magnetic-field-gse',1305,1495,[-8,6],range(-8,6,2),'B(nT)','Magnetic Field (GSE Frame)',64);
 line(p,[39,136],[0,0],'#000','zero-line',1,'8,8');
 line(p,minuteTimes(gseBx),gseBx,'#ff0000','gse-bx-line');
 line(p,minuteTimes(gseBy),gseBy,'#008000','gse-by-line');
 line(p,minuteTimes(gseBz),gseBz,'#0000ff','gse-bz-line');
 p.finish();
 legend('gse-legend',1622,1312,73,[['Bx','#ff0000'],['By','#008000'],['Bz','#0000ff']]);
}
{
 const p=timePanel('magnetic-field-fr',1591,1783,[-6,8],range(-6,8,2),'B(nT)','Magnetic Field (Flux Rope Frame)',64);
 line(p,[39,136],[0,0],'#000','zero-line',1.5,'8,8');
 line(p,minuteTimes(frBx),frBx,'#ff0000','fr-bx-line');
 line(p,minuteTimes(frBy),frBy,'#008000','fr-by-line');
 line(p,minuteTimes(frBz),frBz,'#0000ff','fr-bz-line');
 line(p,minuteTimes(frB),frB,'#000000','fr-b-magnitude-line');
 p.finish();
 legend('fr-legend',1620,1600,75,[["Bx'",'#ff0000'],["By'",'#008000'],["Bz'",'#0000ff'],['|B|','#000000']]);
}
{
 const p=timePanel('pitch-angle-distribution',1877,2069,[0,180],[0,60,120,180],'pitch angle (deg)','Suprathermal Electrons Pitch Angle Distribution (94.02eV)',56);
 padRows.forEach((row,r)=>{
  for(let i=0;i<row.length;i++){const c=row[i]; if(c==='.') continue;
   const xa=p.sx(39+i), xb=p.sx(40+i), ya=p.sy(180-r*6), yb=p.sy(174-r*6);
   mk('rect',{x:xa.toFixed(1),y:ya.toFixed(1),width:(xb-xa+0.6).toFixed(1),height:(yb-ya+0.6).toFixed(1),fill:padColors[+c]},p.plot,'pad-cell');
  }});
 p.finish();
 const cb=mk('g',{},svg,'pad-colorbar');
 mk('rect',{x:1710,y:1877,width:9,height:192,fill:'url(#jet)',stroke:'#000','stroke-width':1},cb,'colorbar-gradient');
 [-26,-27,-28,-29,-30,-31].forEach((e,i)=>{const y=1877+i*192/5;
  mk('line',{x1:1715,y1:y,x2:1719,y2:y,stroke:'#000'},cb,'colorbar-tick');
  const t=txt(cb,1725,y+8,'10',16,'start','colorbar-label');
  const s=mk('tspan',{'font-size':11,dy:-9},t,'colorbar-exponent'); s.textContent='\u2212'+(-e);});
}
{
 const p=timePanel('solar-wind-velocity',2164,2356,[-500,100],range(-500,100,100),'Vsw(km/s)','Solar Wind Velocity (GSE Frame)',43);
 line(p,vxT,vxV,'#ff0000','vx-line');
 line(p,vyT,vyV,'#008000','vy-line');
 line(p,vzT,vzV,'#0000ff','vz-line');
 p.finish();
 legend('vsw-legend',1622,2173,73,[['Vx','#ff0000'],['Vy','#008000'],['Vz','#0000ff']]);
}
{
 const p=timePanel('plasma-beta',2452,2641,[0,5],range(0,5,1),'','Plasma Beta',0);
 line(p,betaT,betaV,'#0000ff','beta-line');
 p.finish();
 const yl=ylabel(75,2546,'',14,'beta-y-label');
 const a=mk('tspan',{'font-style':'italic','font-family':'Liberation Serif, serif'},yl,'beta-p-symbol'); a.textContent='\u03b2';
 const b=mk('tspan',{'font-size':9,dy:3},yl,'beta-p-subscript'); b.textContent='p';
 const c=mk('tspan',{dy:-3},yl,'beta-and'); c.textContent=' and ';
 const d=mk('tspan',{'font-style':'italic','font-family':'Liberation Serif, serif'},yl,'beta-symbol'); d.textContent='\u03b2';
 const lg=mk('g',{},svg,'beta-legend');
 mk('rect',{x:1625,y:2459,width:70,height:31,fill:'#fff',stroke:'#000','stroke-width':1.5},lg,'beta-legend-box');
 mk('line',{x1:1633,y1:2474,x2:1655,y2:2474,stroke:'#0000ff','stroke-width':2.5},lg,'legend-swatch');
 const t=txt(lg,1663,2479,'\u03b2',14,'start','legend-label',{'font-style':'italic'});
 const s=mk('tspan',{'font-size':9,dy:3},t,'legend-subscript'); s.textContent='p';
}
{
 const p=timePanel('proton-number-density',2739,2928,[0,30],range(0,30,5),'Np(#/cc)','Proton Number Density',67);
 line(p,npT,npV,'#0000ff','np-line');
 p.finish();
}
{
 const p=timePanel('proton-temperature',3025,3215,[0,0.5],range(0,0.5,0.1),'','',0);
 line(p,tpT,tpV,'#0000ff','tp-line');
 frame(p); xTicks(p,timeTicks,timeLabels,16);
 const yt=range(0,0.5,0.1); yTicks(p,yt,yt.map(v=>v.toFixed(1)),16);
 const tt=txt(svg,909,3014,'Proton Temperature and ',21,'middle','tp-title');
 const e1=mk('tspan',{'font-style':'italic','font-family':'Liberation Serif, serif'},tt,'te-symbol'); e1.textContent='T';
 const e2=mk('tspan',{'font-size':13,dy:4,'font-style':'italic'},tt,'te-subscript'); e2.textContent='e';
 const e3=mk('tspan',{dy:-4},tt,'slash'); e3.textContent='/';
 const e4=mk('tspan',{'font-style':'italic','font-family':'Liberation Serif, serif'},tt,'tp-symbol'); e4.textContent='T';
 const e5=mk('tspan',{'font-size':13,dy:4,'font-style':'italic'},tt,'tp-subscript'); e5.textContent='p';
 const yl=ylabel(58,3120,'Tp(10',15,'tp-y-label');
 const y1=mk('tspan',{'font-size':10,dy:-6},yl,'tp-y-label-exponent'); y1.textContent='6';
 const y2=mk('tspan',{dy:6},yl,'tp-y-label-units'); y2.textContent='K)';
 legend('tp-legend',124,3031,73,[['Tp','#0000ff']]);
}
</script>
</body></html>
